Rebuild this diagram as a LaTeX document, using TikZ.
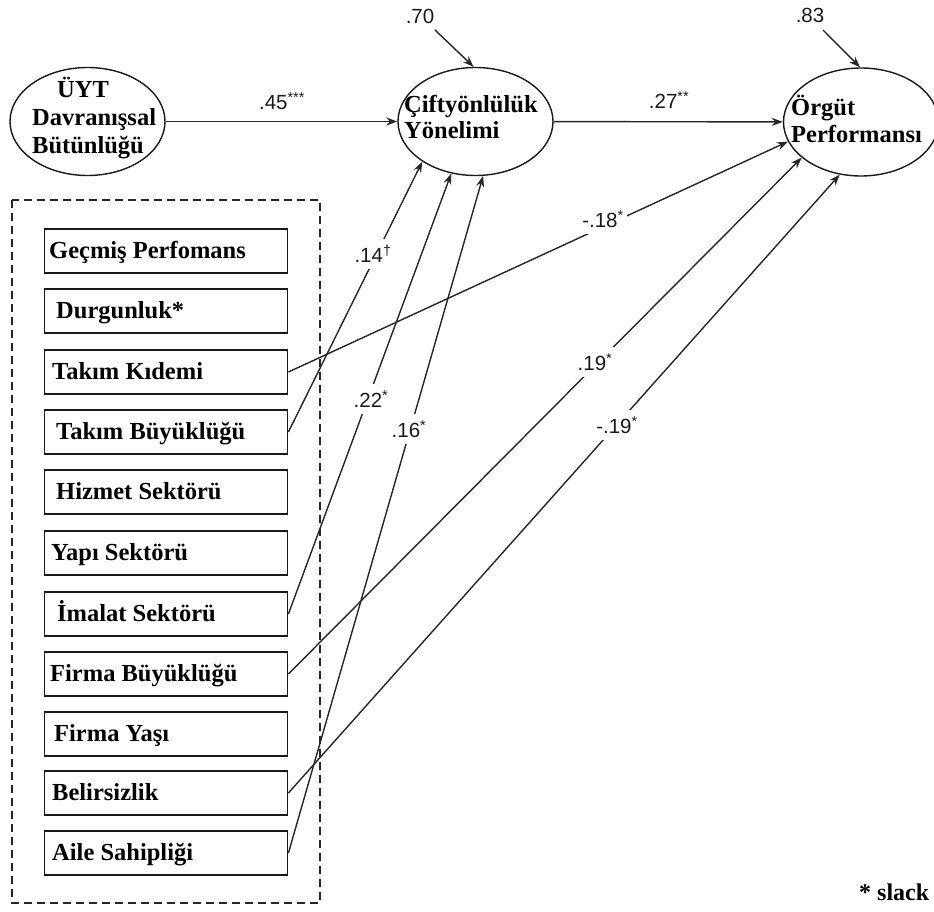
\documentclass[tikz,border=0pt]{standalone}
\usepackage{fontspec}
\setmainfont{Liberation Serif}
\newfontfamily\coeffont{Liberation Sans}
\usetikzlibrary{arrows.meta,shapes.geometric}

\tikzset{
  latent/.style={ellipse, draw=black!90, line width=1.4pt,
    minimum width=155pt, minimum height=108pt, inner sep=0pt},
  ctrlbox/.style={rectangle, draw=black!90, line width=1.4pt,
    minimum width=243pt, minimum height=44pt, inner sep=0pt, anchor=west},
  vname/.style={font=\fontsize{24.5}{27}\selectfont\bfseries,
    anchor=base west, inner sep=0pt},
  coef/.style={font=\coeffont\fontsize{20.5}{22}\selectfont, text=black!90,
    inner sep=0pt},
  coefcut/.style={coef, fill=white, inner xsep=3pt, inner ysep=6pt},
  link/.style={draw=black!85, line width=1.4pt,
    -{Stealth[length=11pt,width=8pt]}},
  groupframe/.style={draw=black!85, line width=1.4pt,
    dash pattern=on 8pt off 5pt},
}

\begin{document}
\begin{tikzpicture}[x=1pt,y=-1pt]
\useasboundingbox (0,0) rectangle (934,912);

% latent constructs
\node[latent] (c1) at (87.5,121.5) {};
\node[latent] (c2) at (475.5,121.5) {};
\node[latent] (c3) at (861,122) {};

\node[vname] (c1a) at (57,98)  {ÜYT};
\node[vname] (c1b) at (32,126) {Davranışsal};
\node[vname] (c1c) at (32,154) {Bütünlüğü};

\node[vname] (c2a) at (404,113) {Çiftyönlülük};
\node[vname] (c2b) at (404,139) {Yönelimi};

\node[vname] (c3a) at (791,116) {Örgüt};
\node[vname] (c3b) at (791,143) {Performansı};

% control variables
\draw[groupframe] (12,200) rectangle (320,903);
\foreach \i/\y/\tx/\txt in {
   1/251/49/{Geçmiş Perfomans},
   2/311/56/{Durgunluk*},
   3/372/52/{Takım Kıdemi},
   4/432/56/{Takım Büyüklüğü},
   5/492/56/{Hizmet Sektörü},
   6/553/51/{Yapı Sektörü},
   7/614/57/{İmalat Sektörü},
   8/674/50/{Firma Büyüklüğü},
   9/734/54/{Firma Yaşı},
  10/793/52/{Belirsizlik},
  11/853/52/{Aile Sahipliği}} {
  \node[ctrlbox] (b\i) at (44,\y) {};
  \node[vname] (t\i) at (\tx,\y+7) {\txt};
}

% structural paths
\draw[link] (c1) -- (c2);
\draw[link] (c2) -- (c3);

\coordinate (e70) at (435,30);
\coordinate (e83) at (823,30);
\draw[link] (e70) -- (c2.92);
\draw[link] (e83) -- (c3.91);

% control paths
\draw[link] (b3.east)  -- (c3.195);
\draw[link] (b4.east)  -- (c2.217);
\draw[link] (b7.east)  -- (c2.245);
\draw[link] (b8.east)  -- (c3.211);
\draw[link] (b10.east) -- (c3.248);
\draw[link] (b11.east) -- (c2.278);

% coefficients
\node[coef] (k45) at (282,101) {.45\textsuperscript{***}};
\node[coef] (k27) at (669,100) {.27\textsuperscript{**}};
\node[coef] (k70) at (420,16)  {.70};
\node[coef] (k83) at (810,15)  {.83};

\node[coefcut] (k14) at (373,254) {.14\textsuperscript{†}};
\node[coefcut] (k22) at (371,399) {.22\textsuperscript{*}};
\node[coefcut] (k16) at (409,429) {.16\textsuperscript{*}};
\node[coefcut] (k18) at (603,219) {-.18\textsuperscript{*}};
\node[coefcut] (k19) at (595,362) {.19\textsuperscript{*}};
\node[coefcut] (k19n) at (617,425) {-.19\textsuperscript{*}};

% footnote
\node[vname, font=\fontsize{24}{26}\selectfont\bfseries] (note) at (859,900) {* slack};
\end{tikzpicture}
\end{document}
